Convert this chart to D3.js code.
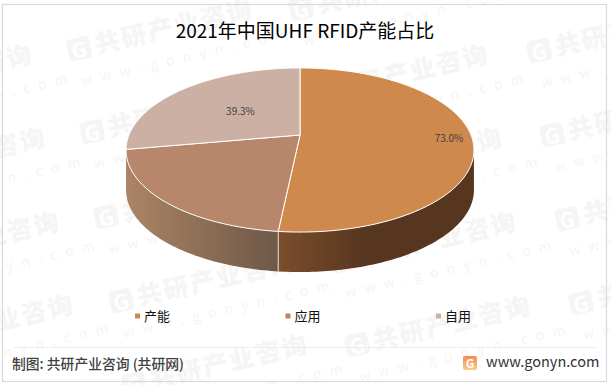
<!DOCTYPE html>
<html>

<head>
    <meta charset="UTF-8">
    <title>2021年中国UHF RFID产能占比</title>
    <script src="https://d3js.org/d3.v7.min.js"></script>
</head>
<style>
    * {
        padding: 0;
        margin: 0;
    }

    body {
        background: #fff;
        overflow: hidden;
    }

    text {
        font-family: "Noto Sans CJK SC", "Noto Sans", sans-serif;
    }
</style>

<body>
    <div id="chart"></div>
</body>
<script>
    var categories = ["产能", "应用", "自用"];
    var values = [73.0, 29.0, 39.3];
    var showLabel = [true, false, true];
    var topColors = ["#d0894d", "#b8876b", "#ccb0a4"];
    var title = "2021年中国UHF RFID产能占比";
    var sourceText = "制图: 共研产业咨询 (共研网)";
    var siteText = "www.gonyn.com";
    var markText = "共研产业咨询";

    var width = 611, height = 385;

    var svg = d3.select("#chart")
        .append("svg")
        .attr("width", width)
        .attr("height", height)
        .style("display", "block");

    // pie is tilted with some perspective, so a flat circle gets projected
    var cx = 300, cy = 135, R = 171, tiltY = 79.3, persp = 0.183, depth = 40;

    function project(angle, r) {
        var u = Math.sin(angle) * r;
        var v = -Math.cos(angle) * r;
        var s = 1 / (1 - persp * v);
        return [cx + R * u * s, cy + tiltY * v * s];
    }

    var line = d3.line();
    var angleStep = Math.PI / 180;

    function rim(a0, a1) {
        var pts = d3.range(a0, a1, angleStep).map(a => project(a, 1));
        pts.push(project(a1, 1));
        return pts;
    }

    var defs = svg.append("defs");

    // watermark, goes under everything
    var markRows = [
        [-150, 105], [-137, 188], [-123, 272], [-109, 355],
        [70, 60], [83, 143], [97, 228], [112, 312], [125, 395],
        [292, 20], [306, 105], [320, 188], [334, 272], [348, 356],
        [530, 62], [543, 146], [558, 230], [572, 314]
    ];

    var marks = svg.append("g")
        .selectAll("g")
        .data(markRows)
        .enter()
        .append("g")
        .attr("transform", d => "translate(" + d[0] + "," + d[1] + ") rotate(-13)")
        .attr("fill", "#f5f5f5");

    marks.append("rect")
        .attr("y", -20)
        .attr("width", 23)
        .attr("height", 22)
        .attr("rx", 4);

    marks.append("text")
        .attr("x", 3.5)
        .attr("y", 0)
        .attr("font-size", 21)
        .attr("font-weight", 700)
        .attr("font-family", "'DejaVu Sans'")
        .attr("fill", "#fff")
        .text("G");

    marks.append("text")
        .attr("x", 28)
        .attr("font-size", 25)
        .attr("font-weight", 900)
        .attr("letter-spacing", 2)
        .text(markText);

    marks.append("text")
        .attr("x", 6)
        .attr("y", 28)
        .attr("font-size", 14)
        .attr("letter-spacing", 8.5)
        .text(siteText);

    // frame and footer
    svg.append("rect")
        .attr("x", 2.5)
        .attr("y", 4.5)
        .attr("width", 604)
        .attr("height", 377)
        .attr("fill", "none")
        .attr("stroke", "#d9d9d9")
        .attr("stroke-width", 1.2);

    svg.append("line")
        .attr("x1", 13)
        .attr("x2", 596)
        .attr("y1", 347.5)
        .attr("y2", 347.5)
        .attr("stroke", "#eeeeee");

    svg.append("text")
        .attr("x", 305)
        .attr("y", 38)
        .attr("text-anchor", "middle")
        .attr("font-size", 19)
        .attr("fill", "#000")
        .text(title);

    // pie
    var pie = d3.pie().sort(null).value(d => d)(values);

    var rightEdge = Math.acos(-persp);
    var leftEdge = 2 * Math.PI - rightEdge;

    var wallGrads = [
        { x1: 278, x2: 474, stops: [[0, "#7b4e2c"], [0.45, "#56361f"], [1, "#56361f"]] },
        { x1: 127, x2: 278, stops: [[0, "#ab8465"], [1, "#6e5847"]] }
    ];

    wallGrads.forEach(function (g, i) {
        var grad = defs.append("linearGradient")
            .attr("id", "wall" + i)
            .attr("gradientUnits", "userSpaceOnUse")
            .attr("x1", g.x1)
            .attr("x2", g.x2)
            .attr("y1", 0)
            .attr("y2", 0);
        g.stops.forEach(s => grad.append("stop").attr("offset", s[0]).attr("stop-color", s[1]));
    });

    // only the two front slices show a side wall
    var walls = svg.append("g");
    pie.slice(0, 2).forEach(function (d, i) {
        var a0 = Math.max(d.startAngle, rightEdge);
        var a1 = Math.min(d.endAngle, leftEdge);
        var top = rim(a0, a1);
        var bottom = top.map(p => [p[0], p[1] + depth]).reverse();
        walls.append("path")
            .attr("d", line(top.concat(bottom)) + "Z")
            .attr("fill", "url(#wall" + i + ")");
    });

    var seam = project(pie[0].endAngle, 1);
    walls.append("line")
        .attr("x1", seam[0])
        .attr("x2", seam[0])
        .attr("y1", seam[1])
        .attr("y2", seam[1] + depth)
        .attr("stroke", "#e6ded6")
        .attr("stroke-width", 1);

    svg.append("g")
        .selectAll("path")
        .data(pie)
        .enter()
        .append("path")
        .attr("d", d => line([[cx, cy]].concat(rim(d.startAngle, d.endAngle))) + "Z")
        .attr("fill", (d, i) => topColors[i])
        .attr("stroke", "#fff")
        .attr("stroke-width", 1)
        .attr("stroke-linejoin", "round");

    // labels
    var labelRadius = [0.865, 0, 0.48];
    svg.append("g")
        .selectAll("text")
        .data(pie.filter((d, i) => showLabel[i]))
        .enter()
        .append("text")
        .attr("transform", function (d) {
            var p = project((d.startAngle + d.endAngle) / 2, labelRadius[d.index]);
            return "translate(" + p[0] + "," + (p[1] + 3.5) + ")";
        })
        .attr("text-anchor", "middle")
        .attr("font-size", 10)
        .attr("fill", "#404040")
        .text(d => d3.format(".1f")(d.value) + "%");

    // legend
    var legendX = d3.scalePoint().domain(categories).range([135, 436]);

    var legend = svg.append("g")
        .selectAll("g")
        .data(categories)
        .enter()
        .append("g")
        .attr("transform", d => "translate(" + legendX(d) + ",316)");

    legend.append("rect")
        .attr("y", -2.5)
        .attr("width", 5)
        .attr("height", 5)
        .attr("fill", (d, i) => topColors[i]);

    legend.append("text")
        .attr("x", 9)
        .attr("y", 4.5)
        .attr("font-size", 13)
        .attr("fill", "#111")
        .text(d => d);

    // footer
    svg.append("text")
        .attr("x", 12)
        .attr("y", 369)
        .attr("font-size", 13.8)
        .attr("font-weight", 500)
        .attr("fill", "#404040")
        .text(sourceText);

    var logoGrad = defs.append("linearGradient")
        .attr("id", "logoGrad")
        .attr("x1", 0).attr("x2", 0).attr("y1", 0).attr("y2", 1);
    logoGrad.append("stop").attr("offset", 0).attr("stop-color", "#f58a4b");
    logoGrad.append("stop").attr("offset", 1).attr("stop-color", "#fbc98a");

    svg.append("rect")
        .attr("x", 463)
        .attr("y", 356)
        .attr("width", 14)
        .attr("height", 14)
        .attr("rx", 2)
        .attr("fill", "url(#logoGrad)");

    svg.append("text")
        .attr("x", 470)
        .attr("y", 368)
        .attr("text-anchor", "middle")
        .attr("font-size", 12)
        .attr("font-weight", 700)
        .attr("font-family", "'DejaVu Sans'")
        .attr("fill", "#fff")
        .text("G");

    svg.append("text")
        .attr("x", 486)
        .attr("y", 367)
        .attr("font-size", 14.5)
        .attr("font-family", "'Open Sans'")
        .attr("fill", "#333")
        .text(siteText);
</script>

</html>
